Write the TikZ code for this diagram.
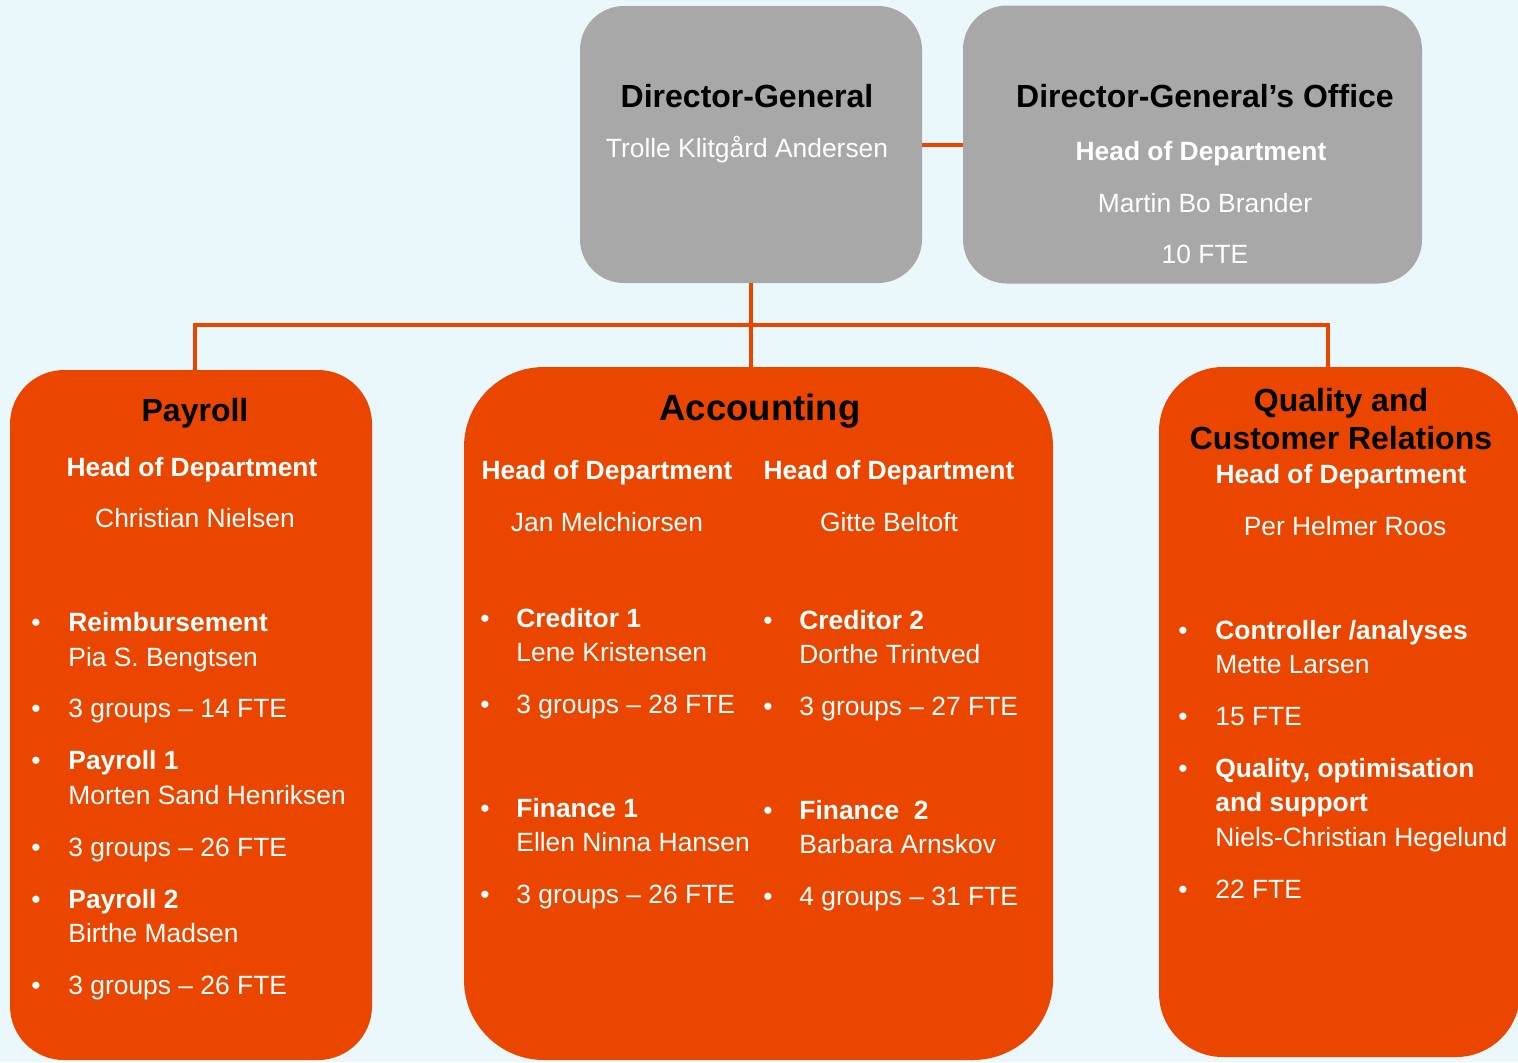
\documentclass[tikz,border=0pt]{standalone}
\usepackage{fontspec}
\setmainfont{Liberation Sans}
\definecolor{bg}{HTML}{EAF8FC}
\definecolor{org}{HTML}{EA4600}
\definecolor{gry}{HTML}{A8A8A8}
\begin{document}
\begin{tikzpicture}[x=0.5pt,y=-0.5pt,
 graybox/.style={fill=gry, draw=none, rounded corners=22pt, inner sep=0pt},
 orgbox/.style={fill=org, draw=none, inner sep=0pt},
 conn/.style={draw=org, line width=2pt},
 body/.style={text=white, anchor=base west, font=\fontsize{13.2}{15}\selectfont, inner sep=0pt},
 bodyc/.style={body, anchor=base},
 bbody/.style={body, font=\fontsize{13.2}{15}\selectfont\bfseries},
 bbodyc/.style={bbody, anchor=base},
 head/.style={text=black, anchor=base, font=\fontsize{16}{18}\selectfont\bfseries, inner sep=0pt},
 bighead/.style={head, font=\fontsize{18.25}{20}\selectfont\bfseries},
 bdot/.style={text=white, anchor=base, font=\fontsize{13.2}{15}\selectfont, inner sep=0pt}]
\fill[bg] (0,0) rectangle (1518,1062);
\useasboundingbox (0,0) rectangle (1518,1062);

% boxes
\node[graybox, minimum width=171pt, minimum height=138.5pt] (dg) at (751,144.5) {};
\node[graybox, minimum width=229.5pt, minimum height=139pt] (dgo) at (1192.5,144.5) {};
\node[orgbox, rounded corners=27pt, minimum width=181pt, minimum height=345pt] (pay) at (191,715) {};
\node[orgbox, rounded corners=40pt, minimum width=294.5pt, minimum height=346.5pt] (acc) at (758.5,713.5) {};
\node[orgbox, rounded corners=32pt, minimum width=180.5pt, minimum height=345pt] (qua) at (1339.5,712) {};

% connectors
\coordinate (bus) at (751,325);
\draw[conn] (dg.east) -- (dgo.west);
\draw[conn] (dg.south) -- (bus);
\draw[conn] (bus) -| ([xshift=2pt]pay.north);
\draw[conn] (bus) -| ([xshift=-5.75pt]qua.north);
\draw[conn] (bus) -- ([xshift=-3.75pt]acc.north);

% Director-General
\node[head] (dgt) at (747,107) {Director-General};
\node[bodyc] (dgn) at (747,157) {Trolle Klitgård Andersen};

% Director-General's Office
\node[head] (dgot) at (1205,107) {Director-General’s Office};
\node[bbodyc] (dgoh) at (1201,160) {Head of Department};
\node[bodyc] (dgon) at (1205,212) {Martin Bo Brander};
\node[bodyc] (dgof) at (1205,263) {10 FTE};

% Payroll
\node[head] (payt) at (195,421) {Payroll};
\node[bbodyc] (payh) at (192,476) {Head of Department};
\node[bodyc] (payn) at (195,527) {Christian Nielsen};
\node[bdot] (pd1) at (36,631) {•};
\node[bbody] (p1) at (68,631) {Reimbursement};
\node[body] (p2) at (68,666) {Pia S. Bengtsen};
\node[bdot] (pd2) at (36,717) {•};
\node[body] (p3) at (68,717) {3 groups – 14 FTE};
\node[bdot] (pd3) at (36,769) {•};
\node[bbody] (p4) at (68,769) {Payroll 1};
\node[body] (p5) at (68,804) {Morten Sand Henriksen};
\node[bdot] (pd4) at (36,856) {•};
\node[body] (p6) at (68,856) {3 groups – 26 FTE};
\node[bdot] (pd5) at (36,908) {•};
\node[bbody] (p7) at (68,908) {Payroll 2};
\node[body] (p8) at (68,942) {Birthe Madsen};
\node[bdot] (pd6) at (36,994) {•};
\node[body] (p9) at (68,994) {3 groups – 26 FTE};

% Accounting
\node[bighead] (acct) at (760,420) {Accounting};
\node[bbodyc] (acch1) at (607,479) {Head of Department};
\node[bbodyc] (acch2) at (889,479) {Head of Department};
\node[bodyc] (accn1) at (607,531) {Jan Melchiorsen};
\node[bodyc] (accn2) at (889,531) {Gitte Beltoft};
\node[bdot] (ad1) at (485,627) {•};
\node[bbody] (a1) at (516,627) {Creditor 1};
\node[body] (a2) at (516,661) {Lene Kristensen};
\node[bdot] (ad2) at (485,713) {•};
\node[body] (a3) at (516,713) {3 groups – 28 FTE};
\node[bdot] (ad3) at (485,817) {•};
\node[bbody] (a4) at (516,817) {Finance 1};
\node[body] (a5) at (516,851) {Ellen Ninna Hansen};
\node[bdot] (ad4) at (485,903) {•};
\node[body] (a6) at (516,903) {3 groups – 26 FTE};
\node[bdot] (bd1) at (768,629) {•};
\node[bbody] (b1) at (799,629) {Creditor 2};
\node[body] (b2) at (799,663) {Dorthe Trintved};
\node[bdot] (bd2) at (768,715) {•};
\node[body] (b3) at (799,715) {3 groups – 27 FTE};
\node[bdot] (bd3) at (768,819) {•};
\node[bbody] (b4) at (799,819) {Finance\ \ 2};
\node[body] (b5) at (799,853) {Barbara Arnskov};
\node[bdot] (bd4) at (768,905) {•};
\node[body] (b6) at (799,905) {4 groups – 31 FTE};

% Quality
\node[head] (quat1) at (1341,411) {Quality and};
\node[head] (quat2) at (1341,449) {Customer Relations};
\node[bbodyc] (quah) at (1341,483) {Head of Department};
\node[bodyc] (quan) at (1345,535) {Per Helmer Roos};
\node[bdot] (qd1) at (1183,639) {•};
\node[bbody] (q1) at (1215,639) {Controller /analyses};
\node[body] (q2) at (1215,673) {Mette Larsen};
\node[bdot] (qd2) at (1183,725) {•};
\node[body] (q3) at (1215,725) {15 FTE};
\node[bdot] (qd3) at (1183,777) {•};
\node[bbody] (q4) at (1215,777) {Quality, optimisation};
\node[bbody] (q5) at (1215,811) {and support};
\node[body] (q6) at (1215,846) {Niels-Christian Hegelund};
\node[bdot] (qd4) at (1183,898) {•};
\node[body] (q7) at (1215,898) {22 FTE};
\end{tikzpicture}
\end{document}
